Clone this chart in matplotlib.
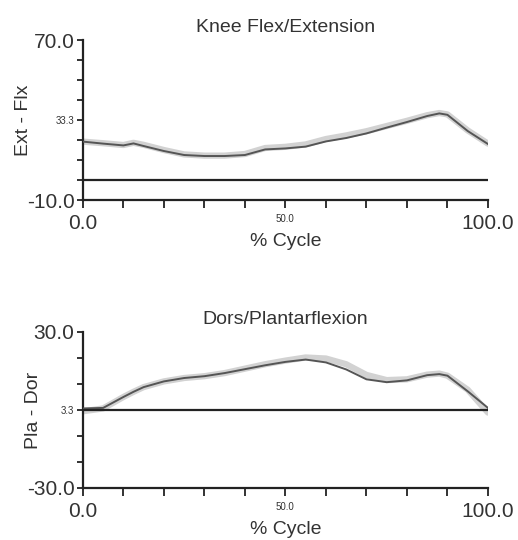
import matplotlib
matplotlib.use("Agg")
import matplotlib.pyplot as plt

plt.rcParams['font.family'] = ['Liberation Sans', 'DejaVu Sans']

# ---- data ----
cycle = [0, 5, 10, 12.5, 15, 20, 25, 30, 35, 40, 45, 50, 55, 60, 65, 70, 75, 80, 85, 88, 90, 95, 100]
knee_mean = [19.2, 18.2, 17.3, 18.3, 17.0, 14.5, 12.5, 12.0, 12.0, 12.5, 15.3, 15.8, 16.7, 19.3, 21.0,
             23.3, 26.2, 29.0, 32.0, 33.3, 32.6, 24.5, 18.0]
knee_band = [19.2, 18.4, 17.5, 18.6, 17.6, 15.0, 12.8, 12.2, 12.2, 13.0, 16.0, 16.6, 17.8, 20.5, 22.3,
             24.4, 27.0, 29.6, 32.4, 33.5, 32.8, 24.8, 18.2]
ankle_mean = [0.6, 0.8, 5.0, 7.0, 8.8, 11.0, 12.3, 13.0, 14.2, 15.7, 17.2, 18.5, 19.4, 18.3, 15.6,
              11.8, 10.7, 11.4, 13.4, 13.8, 13.2, 7.2, 0.8]
ankle_band = [-0.5, 0.6, 5.0, 7.0, 8.8, 11.0, 12.3, 13.0, 14.2, 15.9, 17.6, 19.0, 20.2, 19.8, 17.6,
              13.5, 11.5, 11.8, 13.6, 14.0, 13.2, 7.8, -1.0]

panels = [
    dict(title="Knee Flex/Extension", ylabel="Ext - Flx", ylim=(-10, 70),
         yticks=[-10, 0, 10, 20, 30, 40, 50, 60, 70],
         ylabels={-10: "-10.0", 30: "33.3", 70: "70.0"},
         mean=knee_mean, band=knee_band, labx=-0.126),
    dict(title="Dors/Plantarflexion", ylabel="Pla - Dor", ylim=(-30, 30),
         yticks=[-30, -20, -10, 0, 10, 20, 30],
         ylabels={-30: "-30.0", 0: "3.3", 30: "30.0"},
         mean=ankle_mean, band=ankle_band, labx=-0.101),
]
xticks = [0, 10, 20, 30, 40, 50, 60, 70, 80, 90, 100]
xlabels = {0: "0.0", 50: "50.0", 100: "100.0"}
big = {"0.0", "100.0", "70.0", "-10.0", "30.0", "-30.0"}

fig = plt.figure(figsize=(5.18, 5.40), dpi=100)
positions = [[0.160, 0.6296, 0.782, 0.2963], [0.160, 0.0963, 0.782, 0.2889]]
txtcol = "#333333"

for pos, p in zip(positions, panels):
    ax = fig.add_axes(pos)
    ax.plot(cycle, p["band"], color="#d2d2d2", lw=4.5, solid_capstyle="round", zorder=2)
    ax.plot(cycle, p["mean"], color="#555555", lw=1.4, zorder=3)
    ax.axhline(0, color="#222222", lw=1.6, zorder=4)
    ax.set_xlim(0, 100)
    ax.set_ylim(*p["ylim"])
    for s in ["top", "right"]:
        ax.spines[s].set_visible(False)
    for s in ["left", "bottom"]:
        ax.spines[s].set_linewidth(1.6)
        ax.spines[s].set_color("#222222")
    ax.set_xticks(xticks)
    ax.set_xticklabels([xlabels.get(t, "") for t in xticks])
    ax.set_yticks(p["yticks"])
    ax.set_yticklabels([p["ylabels"].get(t, "") for t in p["yticks"]])
    ax.tick_params(axis="x", direction="out", length=6, width=1.3, color="#222222", pad=4, labelcolor=txtcol)
    ax.tick_params(axis="y", direction="out", length=4, width=1.3, color="#222222", pad=2, labelcolor=txtcol)
    for lab in ax.get_xticklabels() + ax.get_yticklabels():
        if lab.get_text() in big:
            lab.set_fontsize(15)
        else:
            lab.set_fontsize(7)
    ax.set_title(p["title"], fontsize=14, color=txtcol, pad=6)
    ax.set_xlabel("% Cycle", fontsize=14, color=txtcol, labelpad=0)
    ax.set_ylabel(p["ylabel"], fontsize=14, color=txtcol)
    ax.yaxis.set_label_coords(p["labx"], 0.5)

fig.savefig("out.png", dpi=100)
